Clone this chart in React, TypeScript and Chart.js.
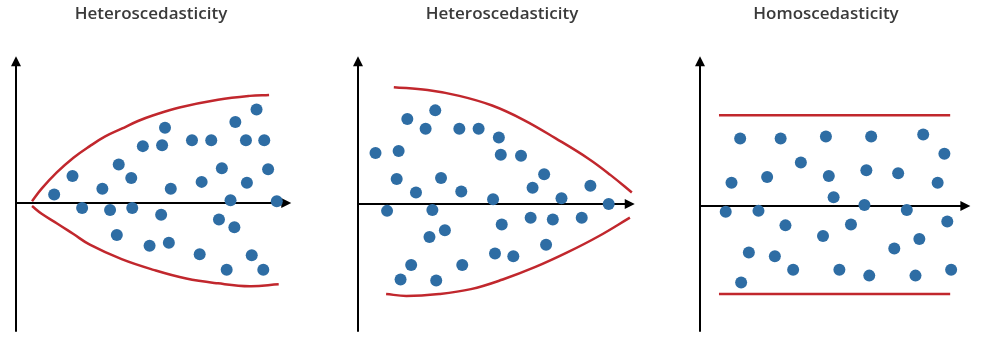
import React, { useEffect, useRef } from "react";
import { Chart, registerables } from "chart.js";

Chart.register(...registerables);

// ---------- data (x: distance right of the vertical axis, y: above the horizontal axis) ----------
const titles = ["Heteroscedasticity", "Heteroscedasticity", "Homoscedasticity"];

const panel1PointX = [40, 59, 69, 90, 98, 107, 120, 121, 105, 132, 152, 155, 151, 161, 139, 159, 183, 203, 193, 191, 214, 223, 211, 227, 219, 228, 239, 250, 240, 258, 262, 245, 257, 271];
const panel1PointY = [9, 28, -5, 15, -7, 40, 26, -5, -33, 59, 60, 78, -12, 15, -44, -41, 65, 65, 22, -53, 36, 3, -17, -25, -69, 84, 65, 97, 21, 65, 35, -54, -69, 2];
const panel1UpperX = [17, 27, 43, 60, 77, 93, 110, 127, 143, 170, 210, 243, 263];
const panel1UpperY = [2, 15, 32, 47, 59, 69, 77, 85, 91, 99, 107, 111, 112];
const panel1LowerX = [17, 27, 43, 60, 77, 110, 143, 177, 210, 243, 273];
const panel1LowerY = [-3, -11, -21, -32, -43, -58, -69, -78, -83, -86, -84];

const panel2PointX = [18, 42, 40, 30, 51, 70, 80, 60, 86, 77, 90, 74, 55, 44, 81, 105, 125, 107, 108, 146, 148, 169, 140, 149, 142, 161, 193, 181, 179, 202, 195, 211, 232, 241, 260];
const panel2PointY = [53, 55, 26, -7, 88, 78, 97, 12, 27, -6, -27, -34, -63, -78, -79, 78, 78, 13, -63, 69, 51, 50, 5, -21, -51, -54, 31, 17, -14, -16, -42, 6, -14, 19, 0];
const panel2UpperX = [37, 72, 105, 139, 172, 205, 239, 262, 284];
const panel2UpperY = [121, 118, 112, 102, 87, 68, 47, 30, 12];
const panel2LowerX = [29, 50, 84, 117, 150, 184, 217, 250, 282];
const panel2LowerY = [-93, -95, -93, -88, -78, -65, -50, -33, -14];

const panel3PointX = [42, 84, 131, 178, 232, 254, 33, 70, 105, 134, 173, 206, 247, 139, 171, 27, 61, 215, 89, 157, 257, 128, 228, 202, 51, 78, 97, 145, 176, 224, 261, 43];
const panel3PointY = [70, 70, 72, 72, 74, 54, 24, 30, 45, 31, 37, 34, 24, 9, 1, -6, -5, -4, -20, -19, -16, -31, -34, -44, -48, -52, -66, -66, -72, -72, -66, -79];
const panel3UpperX = [20, 260];
const panel3UpperY = [94, 94];
const panel3LowerX = [20, 260];
const panel3LowerY = [-91, -91];

// axis extents (data units)
const axisXEnd = [286, 287, 281];
const axisYTop = [152, 153, 155];
const axisYBottom = [-133, -132, -130];

// ---------- layout / style ----------
const PAGE_H = 357;
const panelLeft = [0, 330, 660];
const panelWidth = [330, 330, 327];
const originPx = [10, 23, 35];
const originPy = [204, 205, 207];
const titleCenter = [151, 172, 166];

const BLUE = "#2e6da4";
const RED = "#c1272d";

const pointsX = [panel1PointX, panel2PointX, panel3PointX];
const pointsY = [panel1PointY, panel2PointY, panel3PointY];
const upperX = [panel1UpperX, panel2UpperX, panel3UpperX];
const upperY = [panel1UpperY, panel2UpperY, panel3UpperY];
const lowerX = [panel1LowerX, panel2LowerX, panel3LowerX];
const lowerY = [panel1LowerY, panel2LowerY, panel3LowerY];

const zip = (xs: number[], ys: number[]) => xs.map((x, i) => ({ x, y: ys[i] }));

function Panel({ idx }: { idx: number }) {
  const ref = useRef<HTMLCanvasElement | null>(null);
  useEffect(() => {
    if (!ref.current) return;
    const W = panelWidth[idx];
    const axesPlugin = {
      id: "arrowAxes",
      beforeDatasetsDraw(chart: any) {
        const { ctx } = chart;
        const sx = chart.scales.x;
        const sy = chart.scales.y;
        const x0 = Math.round(sx.getPixelForValue(0));
        const y0 = Math.round(sy.getPixelForValue(0));
        const xEnd = sx.getPixelForValue(axisXEnd[idx]);
        const yTop = sy.getPixelForValue(axisYTop[idx]);
        const yBot = sy.getPixelForValue(axisYBottom[idx]);
        const len = 10;
        const half = 5;
        ctx.save();
        ctx.strokeStyle = "#000";
        ctx.fillStyle = "#000";
        ctx.lineWidth = 2;
        ctx.beginPath();
        ctx.moveTo(x0, y0);
        ctx.lineTo(xEnd - len + 1, y0);
        ctx.moveTo(x0, yBot);
        ctx.lineTo(x0, yTop + len - 1);
        ctx.stroke();
        ctx.beginPath();
        ctx.moveTo(xEnd, y0);
        ctx.lineTo(xEnd - len, y0 - half);
        ctx.lineTo(xEnd - len, y0 + half);
        ctx.closePath();
        ctx.fill();
        ctx.beginPath();
        ctx.moveTo(x0, yTop);
        ctx.lineTo(x0 - half, yTop + len);
        ctx.lineTo(x0 + half, yTop + len);
        ctx.closePath();
        ctx.fill();
        ctx.restore();
      },
    };
    const curve = (data: any[]) => ({
      type: "scatter" as const,
      data,
      showLine: true,
      borderColor: RED,
      borderWidth: 2.5,
      pointRadius: 0,
      tension: 0.4,
      fill: false,
    });
    const chart = new Chart(ref.current, {
      type: "scatter",
      data: {
        datasets: [
          curve(zip(upperX[idx], upperY[idx])),
          curve(zip(lowerX[idx], lowerY[idx])),
          {
            data: zip(pointsX[idx], pointsY[idx]),
            backgroundColor: BLUE,
            borderWidth: 0,
            pointRadius: 6,
            pointHoverRadius: 6,
          },
        ],
      },
      options: {
        animation: false,
        responsive: false,
        devicePixelRatio: 1,
        layout: { padding: 0 },
        events: [],
        plugins: { legend: { display: false }, tooltip: { enabled: false }, title: { display: false } },
        scales: {
          x: { type: "linear", display: false, min: -originPx[idx], max: W - originPx[idx] },
          y: { type: "linear", display: false, min: originPy[idx] - PAGE_H, max: originPy[idx] },
        },
      },
      plugins: [axesPlugin],
    } as any);
    return () => chart.destroy();
  }, [idx]);

  return (
    <div style={{ position: "absolute", left: panelLeft[idx], top: 0, width: panelWidth[idx], height: PAGE_H }}>
      <canvas ref={ref} width={panelWidth[idx]} height={PAGE_H} style={{ display: "block", position: "absolute", left: 0, top: 0 }} />
      <div
        style={{
          position: "absolute",
          top: 0,
          left: titleCenter[idx] - 120,
          width: 240,
          lineHeight: "26px",
          textAlign: "center",
          fontFamily: "'Open Sans', sans-serif",
          fontWeight: 600,
          fontSize: 17,
          color: "#3a3a3a",
          whiteSpace: "nowrap",
        }}
      >
        {titles[idx]}
      </div>
    </div>
  );
}

export default function App() {
  return (
    <div style={{ position: "fixed", left: 0, top: 0, width: 987, height: PAGE_H, background: "#fff", overflow: "hidden" }}>
      <Panel idx={0} />
      <Panel idx={1} />
      <Panel idx={2} />
    </div>
  );
}
